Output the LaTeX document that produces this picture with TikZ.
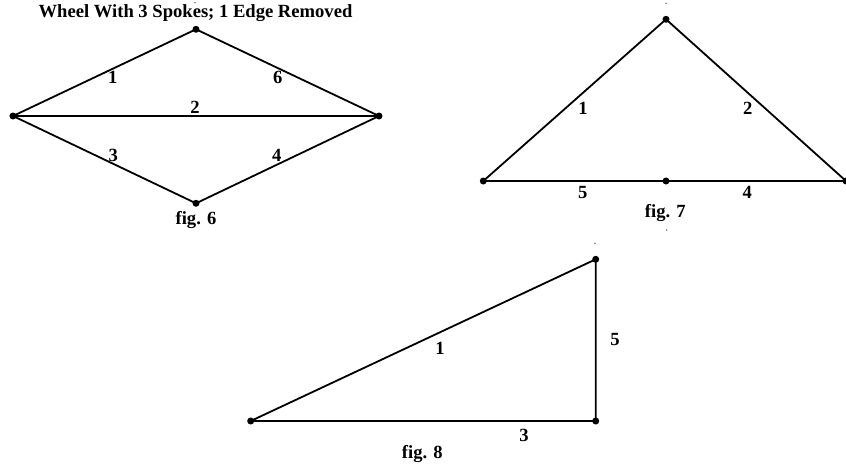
\documentclass[tikz,border=0pt]{standalone}
\usepackage{fontspec}
\setmainfont{Liberation Serif}
\begin{document}
\begin{tikzpicture}[x=1pt,y=-1pt,
  vtx/.style={circle,fill=black,inner sep=0pt,minimum size=7pt},
  speck/.style={circle,fill=black,inner sep=0pt,minimum size=1.3pt},
  edge/.style={line width=1.8pt},
  lbl/.style={anchor=base,inner sep=0pt,font=\fontsize{18.6}{20}\selectfont\bfseries}]
\useasboundingbox (0,0) rectangle (846,466);
% fig 6
\node[lbl] (t6) at (195.5,17.3) {Wheel With 3 Spokes; 1 Edge Removed};
\node[vtx] (a) at (196,29.3) {};
\node[vtx] (b) at (13,116) {};
\node[vtx] (c) at (379,116) {};
\node[vtx] (d) at (196,203.3) {};
\draw[edge] (b.center) -- (a.center) -- (c.center) -- (d.center) -- (b.center) -- (c.center);
\node[lbl] (l61) at (112.7,83.3) {1};
\node[lbl] (l66) at (277.7,83.3) {6};
\node[lbl] (l62) at (195,113.3) {2};
\node[lbl] (l63) at (113.3,161) {3};
\node[lbl] (l64) at (276.7,161) {4};
\node[lbl] (f6) at (196,224.5) {fig. 6};
\node[speck] (s1) at (195,2.7) {};
% fig 7
\node[vtx] (p) at (666,19.3) {};
\node[vtx] (q) at (483.3,181) {};
\node[vtx] (r) at (666,181) {};
\node[vtx] (s) at (846,181) {};
\draw[edge] (q.center) -- (p.center) -- (s.center) -- (r.center) -- (q.center);
\node[lbl] (l71) at (583,114) {1};
\node[lbl] (l72) at (747.7,114) {2};
\node[lbl] (l75) at (582.7,198.7) {5};
\node[lbl] (l74) at (747.3,198.7) {4};
\node[lbl] (f7) at (665.3,217.3) {fig. 7};
\node[speck] (s2) at (666,3.3) {};
\node[speck] (s3) at (666.7,230) {};
% fig 8
\node[vtx] (u) at (595.7,259.3) {};
\node[vtx] (v) at (250.7,421) {};
\node[vtx] (w) at (595.7,421) {};
\draw[edge] (v.center) -- (u.center) -- (w.center) -- (v.center);
\node[lbl] (l81) at (440,354.3) {1};
\node[lbl] (l85) at (615,345.7) {5};
\node[lbl] (l83) at (524,441.7) {3};
\node[lbl] (f8) at (422.3,458.3) {fig. 8};
\node[speck] (s4) at (595,243.3) {};
\end{tikzpicture}
\end{document}
